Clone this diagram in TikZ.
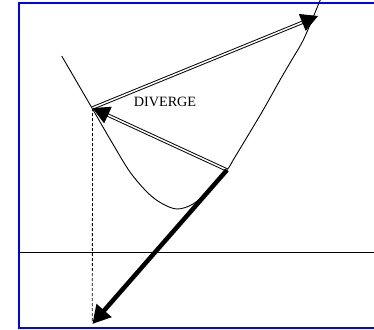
\documentclass[tikz,border=0pt]{standalone}
\usepackage{fontspec}
\setmainfont{Liberation Serif}
\usetikzlibrary{arrows.meta}
\begin{document}
\begin{tikzpicture}[x=1pt,y=-1pt,
  frame/.style={draw=blue,line width=2pt},
  thin/.style={line width=0.9pt},
  dbl/.style={double,line width=0.95pt,double distance=1.5pt,
    -{Triangle[length=17pt,width=18pt]}},
  thick arrow/.style={line width=4.5pt,-{Triangle[length=18pt,width=19pt]}},
  dashline/.style={line width=0.8pt,dash pattern=on 3pt off 2pt},
  lbl/.style={font=\fontsize{14.2}{16}\selectfont,anchor=base,inner sep=0pt}]
\clip (0,0) rectangle (374,329);
\fill[white] (0,0) rectangle (374,329);
\draw[frame] (18.5,3) rectangle (390,327.5);
\coordinate (L) at (19,252);
\coordinate (R) at (390,252);
\draw[thin] (L) -- (R);
\draw[thin] plot[smooth,tension=0.55] coordinates {(61.7,56) (91.7,107.5) (112,142.5) (130,172) (148,193) (162,203.5) (177,209) (193,204) (210,189) (227,170) (235,157) (262,112) (280,80) (291.7,60) (304,38.5) (319,3) (322,-4)};
\coordinate (A) at (92.5,108);
\coordinate (B) at (227,170);
\coordinate (C) at (318,16);
\coordinate (D) at (92.3,324);
\coordinate (E) at (92.3,322);
\draw[dashline] (A) -- (E);
\draw[dbl] (A) -- (C);
\draw[dbl] (B) -- (A);
\draw[thick arrow] (B) -- (D);
\node[lbl] (txt) at (165,106.3) {DIVERGE};
\end{tikzpicture}
\end{document}
